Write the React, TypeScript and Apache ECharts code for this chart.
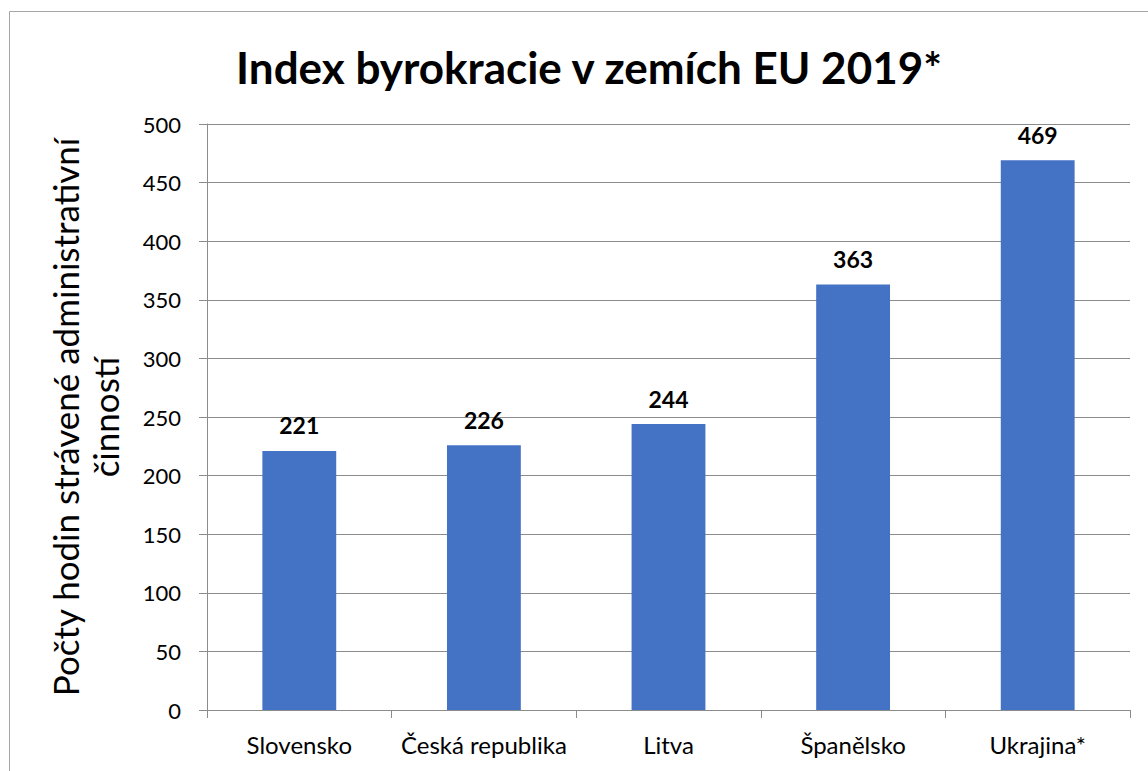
import React, { useEffect, useRef } from "react";
import * as echarts from "echarts";

const categories = ["Slovensko", "Česká republika", "Litva", "Španělsko", "Ukrajina*"];
const values = [221, 226, 244, 363, 469];
const titleText = "Index byrokracie v zemích EU 2019*";
const yAxisName = "Počty hodin strávené administrativní\nčinností";

const FONT = "Lato, 'Open Sans', sans-serif";

export default function App() {
  const ref = useRef<HTMLDivElement>(null);
  useEffect(() => {
    if (!ref.current) return;
    const chart = echarts.init(ref.current, null, { renderer: "svg" });
    chart.setOption({
      animation: false,
      backgroundColor: "#ffffff",
      title: {
        text: titleText,
        left: 584,
        textAlign: "center",
        top: 40,
        textStyle: { fontFamily: FONT, fontSize: 44, fontWeight: "bold", color: "#000" },
      },
      graphic: [
        {
          type: "rect",
          shape: { x: 9.5, y: 11.5, width: 1300, height: 900 },
          style: { fill: "none", stroke: "#a6a6a6", lineWidth: 1 },
          silent: true,
        },
      ],
      grid: { left: 207, top: 124, right: 18, bottom: 61, containLabel: false, outerBoundsMode: "none" },
      xAxis: {
        type: "category",
        data: categories,
        axisLine: { lineStyle: { color: "#8c8c8c", width: 1 } },
        axisTick: { show: true, alignWithLabel: false, length: 8, lineStyle: { color: "#8c8c8c" } },
        axisLabel: { fontFamily: FONT, fontSize: 24, color: "#000", margin: 22, interval: 0 },
      },
      yAxis: {
        type: "value",
        min: 0,
        max: 500,
        interval: 50,
        name: yAxisName,
        nameLocation: "middle",
        nameGap: 82,
        nameRotate: 90,
        nameTextStyle: { fontFamily: FONT, fontSize: 35, color: "#000", lineHeight: 40 },
        axisLine: { show: true, lineStyle: { color: "#8c8c8c", width: 1 } },
        axisTick: { show: true, length: 8, lineStyle: { color: "#8c8c8c" } },
        axisLabel: { fontFamily: FONT, fontSize: 22, color: "#000", margin: 26 },
        splitLine: { show: true, lineStyle: { color: "#8c8c8c", width: 1 } },
      },
      series: [
        {
          type: "bar",
          data: values,
          barWidth: "40%",
          itemStyle: { color: "#4472c4" },
          label: {
            show: true,
            position: "top",
            distance: 14,
            fontFamily: FONT,
            fontSize: 23,
            fontWeight: "bold",
            color: "#000",
          },
        },
      ],
    });
    return () => chart.dispose();
  }, []);
  return <div ref={ref} style={{ width: 1148, height: 771, position: "absolute", left: 0, top: 0 }} />;
}
